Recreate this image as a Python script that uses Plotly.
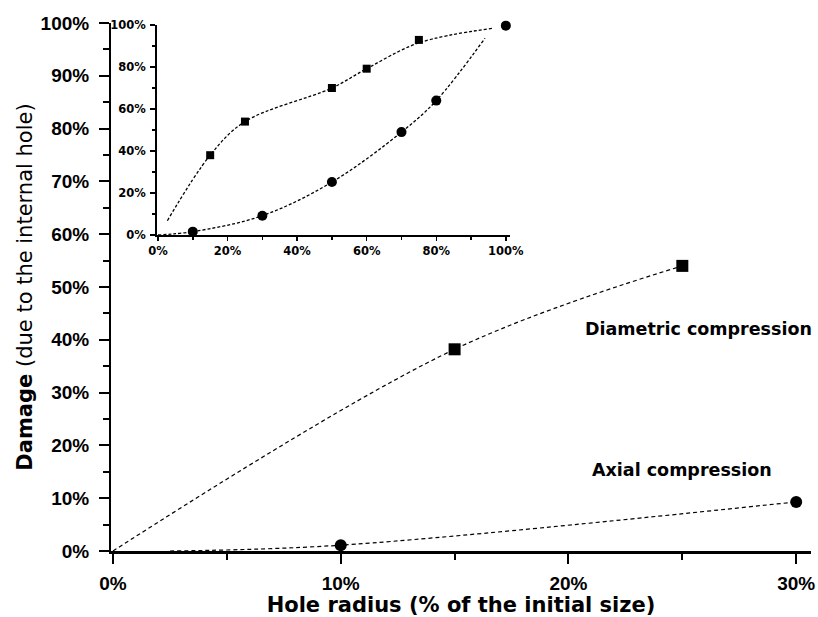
import plotly.graph_objects as go

# ---------------- data ----------------
# main plot markers
main_diam_x = [15, 25]
main_diam_y = [38.2, 54.0]
main_axial_x = [10, 30]
main_axial_y = [1.1, 9.3]
# main plot fitted (dashed) curves
main_diam_fit_x = [0, 15, 25]
main_diam_fit_y = [0, 38.2, 54.0]
main_axial_fit_x = [2.5, 10, 30]
main_axial_fit_y = [0, 1.1, 9.3]

# inset markers
inset_diam_x = [15, 25, 50, 60, 75]
inset_diam_y = [38, 54, 70, 79.2, 92.9]
inset_axial_x = [10, 30, 50, 70, 80, 100]
inset_axial_y = [1.6, 9.2, 25.2, 49, 64, 99.7]
# inset fitted (dashed) curves
inset_diam_fit_x = [2.7, 15, 25, 50, 60, 75, 96]
inset_diam_fit_y = [6.8, 38, 54, 70, 79.2, 91.5, 98.4]
inset_axial_fit_x = [0, 10, 30, 50, 70, 80, 94]
inset_axial_fit_y = [0, 1.6, 9.2, 25.2, 49, 64, 93.7]

# tick labels
main_x_ticks = [0, 10, 20, 30]
main_x_labels = ["0%", "10%", "20%", "30%"]
main_y_ticks = [0, 10, 20, 30, 40, 50, 60, 70, 80, 90, 100]
main_y_labels = ["0%", "10%", "20%", "30%", "40%", "50%", "60%", "70%", "80%", "90%", "100%"]
inset_ticks = [0, 20, 40, 60, 80, 100]
inset_labels = ["0%", "20%", "40%", "60%", "80%", "100%"]

labels = ["Diametric compression", "Axial compression"]

# ---------------- figure ----------------
fig = go.Figure()

dash_main = dict(color="black", width=1.2, dash="4px,3px", shape="spline")
dash_inset = dict(color="black", width=1.3, dash="3px,2px", shape="spline")

fig.add_trace(go.Scatter(x=main_diam_fit_x, y=main_diam_fit_y, mode="lines",
                         line=dash_main, showlegend=False, hoverinfo="skip"))
fig.add_trace(go.Scatter(x=main_axial_fit_x, y=main_axial_fit_y, mode="lines",
                         line=dash_main, showlegend=False, hoverinfo="skip"))
fig.add_trace(go.Scatter(x=main_diam_x, y=main_diam_y, mode="markers", name=labels[0], cliponaxis=False,
                         marker=dict(symbol="square", size=12, color="black"), showlegend=False))
fig.add_trace(go.Scatter(x=main_axial_x, y=main_axial_y, mode="markers", name=labels[1], cliponaxis=False,
                         marker=dict(symbol="circle", size=12, color="black"), showlegend=False))

fig.add_trace(go.Scatter(x=inset_diam_fit_x, y=inset_diam_fit_y, mode="lines", xaxis="x2", yaxis="y2",
                         line=dash_inset, showlegend=False, hoverinfo="skip"))
fig.add_trace(go.Scatter(x=inset_axial_fit_x, y=inset_axial_fit_y, mode="lines", xaxis="x2", yaxis="y2",
                         line=dash_inset, showlegend=False, hoverinfo="skip"))
fig.add_trace(go.Scatter(x=inset_diam_x, y=inset_diam_y, mode="markers", xaxis="x2", yaxis="y2",
                         cliponaxis=False, name=labels[0],
                         marker=dict(symbol="square", size=8, color="black"), showlegend=False))
fig.add_trace(go.Scatter(x=inset_axial_x, y=inset_axial_y, mode="markers", xaxis="x2", yaxis="y2",
                         cliponaxis=False, name=labels[1],
                         marker=dict(symbol="circle", size=10, color="black"), showlegend=False))

tick_font_main = dict(family="Liberation Sans, Arial, sans-serif", size=19, color="black", weight="bold")
tick_font_inset = dict(family="DejaVu Sans, sans-serif", size=11.5, color="black", weight="bold")
title_font = dict(family="DejaVu Sans, sans-serif", size=21, color="black")

fig.update_layout(
    width=818, height=617,
    margin=dict(l=111, r=7, t=23, b=66, autoexpand=False),
    paper_bgcolor="white", plot_bgcolor="white",
    showlegend=False,
    xaxis=dict(
        range=[-0.088, 30.65], tickmode="array", tickvals=main_x_ticks, ticktext=main_x_labels,
        ticks="outside", ticklen=10, tickwidth=2, tickcolor="black",
        minor=dict(dtick=5, ticks="outside", ticklen=6, tickwidth=2, tickcolor="black"),
        showline=True, linewidth=2.5, linecolor="black", showgrid=False, zeroline=False,
        tickfont=tick_font_main, ticklabelstandoff=4, automargin=False,
        title=dict(text="<b>Hole radius (% of the initial size)</b>", font=title_font, standoff=4),
        fixedrange=True,
    ),
    yaxis=dict(
        range=[0, 100], tickmode="array", tickvals=main_y_ticks, ticktext=main_y_labels,
        ticks="outside", ticklen=10, tickwidth=2, tickcolor="black",
        minor=dict(dtick=5, ticks="outside", ticklen=6, tickwidth=2, tickcolor="black"),
        showline=True, linewidth=2, linecolor="black", showgrid=False, zeroline=False,
        tickfont=tick_font_main, ticklabelstandoff=6, automargin=False,
        title=dict(text="<b>Damage</b> (due to the internal hole)", font=title_font, standoff=2),
        fixedrange=True,
    ),
    xaxis2=dict(
        domain=[0.0657, 0.570], anchor="y2", range=[-0.29, 101.2],
        tickmode="array", tickvals=inset_ticks, ticktext=inset_labels,
        ticks="outside", ticklen=4, tickwidth=1.5, tickcolor="black",
        minor=dict(dtick=10, ticks="outside", ticklen=3, tickwidth=1.5, tickcolor="black"),
        showline=True, linewidth=1.8, linecolor="black", showgrid=False, zeroline=False,
        tickfont=tick_font_inset, ticklabelstandoff=0, fixedrange=True, automargin=False,
    ),
    yaxis2=dict(
        domain=[0.5985, 0.9962], anchor="x2", range=[0, 100],
        tickmode="array", tickvals=inset_ticks, ticktext=inset_labels,
        ticks="outside", ticklen=5, tickwidth=1.5, tickcolor="black",
        minor=dict(dtick=10, ticks="outside", ticklen=3, tickwidth=1.5, tickcolor="black"),
        showline=True, linewidth=1.8, linecolor="black", showgrid=False, zeroline=False,
        tickfont=tick_font_inset, ticklabelstandoff=2, fixedrange=True, automargin=False,
    ),
    annotations=[
        dict(x=25.7, y=42.0, xref="x", yref="y", text="<b>" + labels[0] + "</b>", showarrow=False,
             xanchor="center", yanchor="middle",
             font=dict(family="DejaVu Sans, sans-serif", size=17.5, color="black")),
        dict(x=25.0, y=15.3, xref="x", yref="y", text="<b>" + labels[1] + "</b>", showarrow=False,
             xanchor="center", yanchor="middle",
             font=dict(family="DejaVu Sans, sans-serif", size=17.5, color="black")),
    ],
)

fig.write_html("out.html", config={"displayModeBar": False, "staticPlot": True},
               post_script="document.body.style.margin='0';document.body.style.overflow='hidden';")
